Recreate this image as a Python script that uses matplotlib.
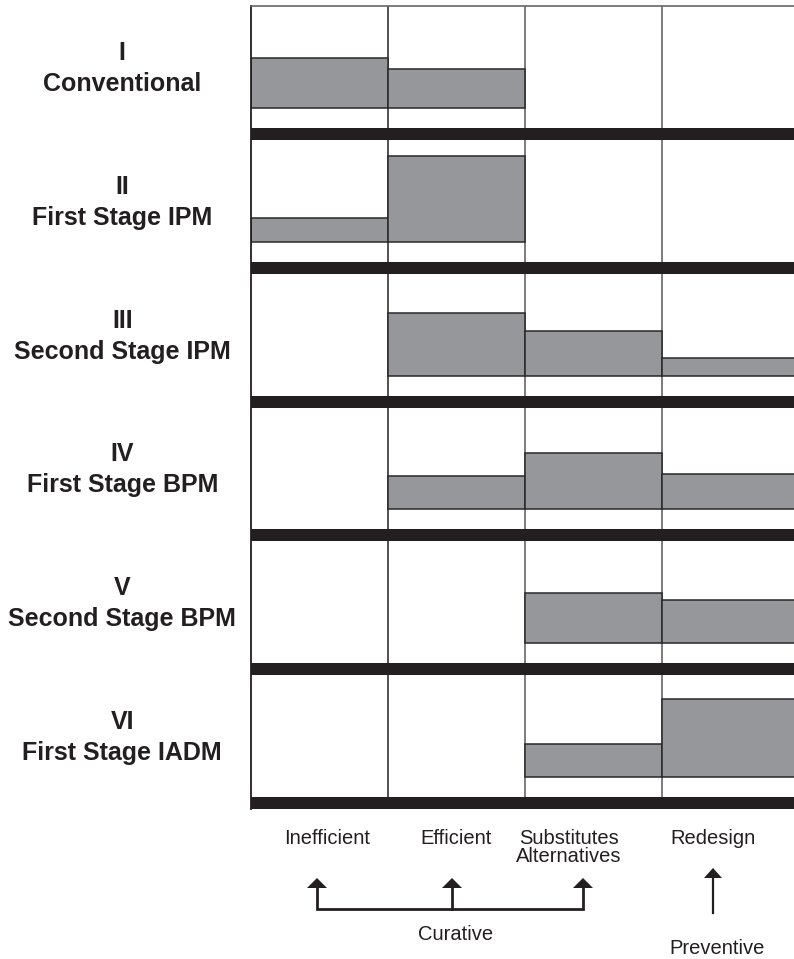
import matplotlib
matplotlib.use('Agg')
import matplotlib.pyplot as plt

plt.rcParams['font.family'] = ['Liberation Sans', 'DejaVu Sans']

# ── data ────────────────────────────────────────────────────────────
stage_numerals = ['I', 'II', 'III', 'IV', 'V', 'VI']
stage_names = ['Conventional', 'First Stage IPM', 'Second Stage IPM',
               'First Stage BPM', 'Second Stage BPM', 'First Stage IADM']
column_labels = ['Inefficient', 'Efficient', 'Substitutes\nAlternatives', 'Redesign']

# bar heights per column, one value per stage (0 = no bar)
inefficient = [50, 24, 0, 0, 0, 0]
efficient = [39, 86, 63, 33, 0, 0]
substitutes = [0, 0, 45, 56, 50, 33]
redesign = [0, 0, 18, 35, 43, 78]
columns = [inefficient, efficient, substitutes, redesign]

# ── layout ──────────────────────────────────────────────────────────
W, H = 794, 959
X0, Y_TOP, Y_BOT = 251, 6, 809      # pixel frame of the grid
COL_W = 137
n_rows = len(stage_names)
P = (Y_BOT - Y_TOP) / n_rows          # row period in data units (= px)
BAND = 12
BASE = 20

FILL = '#96979b'
EDGE = '#2a2829'
DARK = '#231f20'

fig = plt.figure(figsize=(W / 100, H / 100), dpi=100, facecolor='white')
ax = fig.add_axes([X0 / W, 1 - Y_BOT / H, (W - X0) / W, (Y_BOT - Y_TOP) / H])
ax.set_xlim(0, (W - X0) / COL_W)
ax.set_ylim(0, Y_BOT - Y_TOP)
ax.set_xticks([]); ax.set_yticks([])
for s in ['right', 'bottom']:
    ax.spines[s].set_visible(False)
ax.spines['left'].set_color(DARK)
ax.spines['left'].set_linewidth(1.3)
ax.spines['top'].set_color('#666666')
ax.spines['top'].set_linewidth(1.2)

# column dividers
for i, c in zip([1, 2, 3], ['#333333', '#666666', '#666666']):
    ax.axvline(i, color=c, linewidth=1.2, zorder=1)

for r in range(n_rows):
    y0 = (n_rows - 1 - r) * P
    ax.axhspan(y0, y0 + BAND, color=DARK, zorder=4, linewidth=0)
    base = y0 + BAND + BASE
    for ci, col in enumerate(columns):
        h = col[r]
        if h > 0:
            ax.bar(ci + 0.5, h, width=1, bottom=base, color=FILL,
                   edgecolor=EDGE, linewidth=1.1, zorder=2)
    yc = y0 + BAND + (P - BAND) / 2
    ax.text(-0.94, yc + 14, stage_numerals[r], ha='center', va='center',
            fontsize=18, fontweight='bold', color=DARK, clip_on=False)
    ax.text(-0.94, yc - 17, stage_names[r], ha='center', va='center',
            fontsize=18, fontweight='bold', color=DARK, clip_on=False)

# bottom labels (y in px below the grid, converted to data units)
def py(px):
    return Y_BOT - px

def pxx(px):
    return (px - X0) / COL_W

label_x = [327, 456, 569, 713]
for lx, lab in zip(label_x, column_labels):
    ax.text(pxx(lx), py(829), lab, ha='center', va='top', fontsize=14.5,
            color=DARK, clip_on=False, linespacing=0.95)

# curative bracket
arrow_x = [317, 452, 583]
ax.plot([pxx(arrow_x[0]), pxx(arrow_x[0]), pxx(arrow_x[2]), pxx(arrow_x[2])],
        [py(887), py(909), py(909), py(887)], color=DARK, linewidth=2,
        solid_joinstyle='miter', clip_on=False)
ax.plot([pxx(arrow_x[1])] * 2, [py(909), py(887)], color=DARK, linewidth=2,
        clip_on=False)
hw = 10 / COL_W
for axx in arrow_x:
    ax.fill([pxx(axx) - hw, pxx(axx), pxx(axx) + hw],
            [py(888), py(878), py(888)], color=DARK, clip_on=False, linewidth=0)
ax.text(pxx(456), py(935), 'Curative', ha='center', va='center', fontsize=14.5,
        color=DARK, clip_on=False)

# preventive arrow
ax.plot([pxx(713)] * 2, [py(913), py(877)], color=DARK, linewidth=1.6,
        clip_on=False)
ax.fill([pxx(713) - 9 / COL_W, pxx(713), pxx(713) + 9 / COL_W],
        [py(878), py(868), py(878)], color=DARK, clip_on=False, linewidth=0)
ax.text(pxx(717), py(949), 'Preventive', ha='center', va='center', fontsize=14.5,
        color=DARK, clip_on=False)

fig.savefig('out.png', dpi=100, facecolor='white')
